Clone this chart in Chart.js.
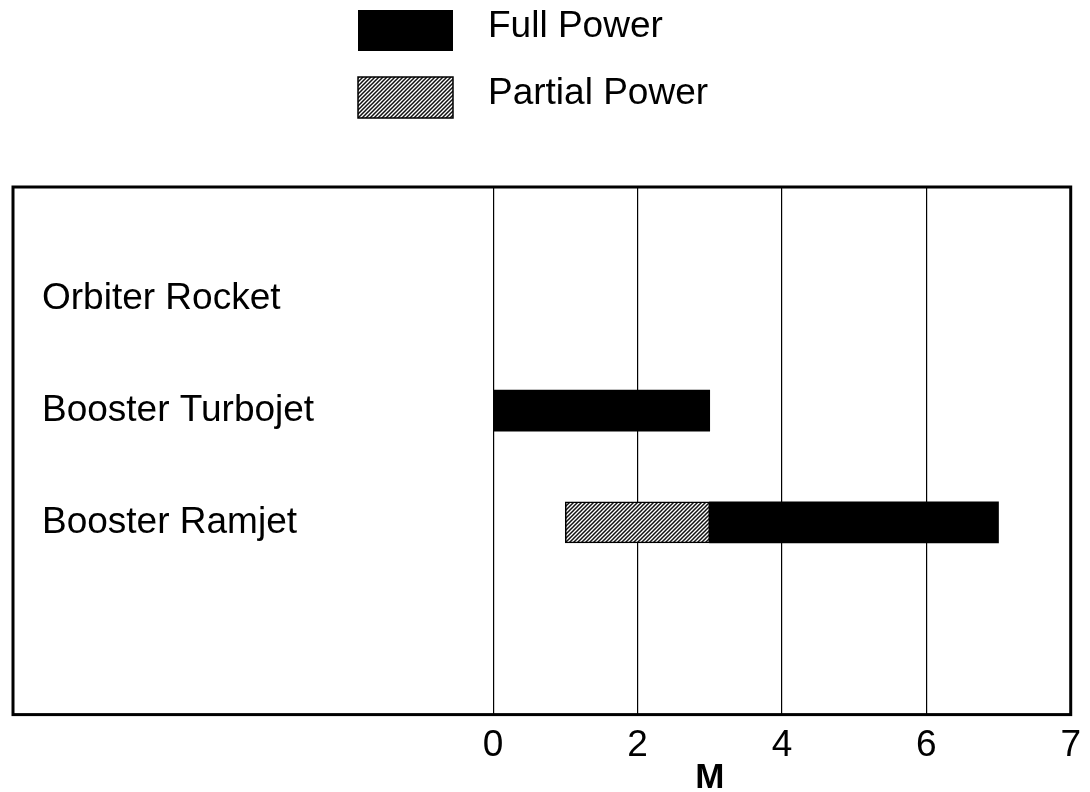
<!DOCTYPE html>
<html>
<head>
<meta charset="utf-8">
<title>Engine operating range</title>
<script src="https://cdn.jsdelivr.net/npm/chart.js@4.4.1/dist/chart.umd.min.js"></script>
<style>
  body { margin: 0; background: #fff; }
  #wrap { width: 1090px; height: 792px; position: relative; }
</style>
</head>
<body>
<div id="wrap"><canvas id="chart"></canvas></div>
<script>
// categories (top to bottom) and Mach ranges
const engines = ['Orbiter Rocket', 'Booster Turbojet', 'Booster Ramjet'];
const fullPowerFrom = [null, 0, 3];
const fullPowerTo = [null, 3, 7];
const partialPowerFrom = [null, null, 1];
const partialPowerTo = [null, null, 3];

// x-axis ticks as printed (last label sits on the right frame)
const tickValues = [0, 2, 4, 6, 8];
const tickLabels = ['0', '2', '4', '6', '7'];
const axisTitle = 'M';

Chart.defaults.font.family = '"Liberation Sans", Arial, sans-serif';
Chart.defaults.color = '#000';

function makeRanges(from, to) {
    const out = [];
    engines.forEach((name, i) => {
        if (from[i] !== null) out.push({ y: i + 1, x: [from[i], to[i]] });
    });
    return out;
}

// fine diagonal hatch like the partial power bar
function hatchPattern() {
    const c = document.createElement('canvas');
    c.width = 4; c.height = 4;
    const g = c.getContext('2d');
    g.fillStyle = '#fff';
    g.fillRect(0, 0, 4, 4);
    g.strokeStyle = '#111';
    g.lineWidth = 1.5;
    g.beginPath();
    g.moveTo(-1, 5); g.lineTo(5, -1);
    g.moveTo(-1, 1); g.lineTo(1, -1);
    g.moveTo(3, 5); g.lineTo(5, 3);
    g.stroke();
    return g.createPattern(c, 'repeat');
}

const ctx = document.getElementById('chart').getContext('2d');
const hatch = hatchPattern();

// frame round the plot, the legend block at the top and the "M" under the axis
const decorations = {
    id: 'decorations',
    afterDraw(chart) {
        const { ctx, chartArea: a, scales } = chart;
        ctx.save();
        ctx.strokeStyle = '#000';
        ctx.lineWidth = 3;
        ctx.strokeRect(a.left, a.top, a.right - a.left, a.bottom - a.top);

        // legend, stacked
        ctx.font = '37px "Liberation Sans", Arial, sans-serif';
        ctx.textBaseline = 'middle';
        ctx.textAlign = 'left';
        let y = 10;
        chart.data.datasets.forEach(ds => {
            ctx.fillStyle = ds.backgroundColor;
            ctx.fillRect(358, y, 95, 41);
            if (ds.borderWidth) {
                ctx.lineWidth = 1.5;
                ctx.strokeStyle = '#000';
                ctx.strokeRect(358, y, 95, 41);
            }
            ctx.fillStyle = '#000';
            ctx.fillText(ds.label, 488, y + 17);
            y += 67;
        });

        ctx.font = 'bold 35px "Liberation Sans", Arial, sans-serif';
        ctx.textAlign = 'center';
        ctx.fillText(axisTitle, scales.x.getPixelForValue(3), 778);
        ctx.restore();
    }
};

new Chart(ctx, {
    type: 'bar',
    data: {
        datasets: [
            {
                label: 'Full Power',
                data: makeRanges(fullPowerFrom, fullPowerTo),
                backgroundColor: '#000',
                borderWidth: 0,
                barThickness: 41,
                grouped: false
            },
            {
                label: 'Partial Power',
                data: makeRanges(partialPowerFrom, partialPowerTo),
                backgroundColor: hatch,
                borderColor: '#000',
                borderWidth: 1.5,
                borderSkipped: false,
                barThickness: 41,
                grouped: false
            }
        ]
    },
    options: {
        indexAxis: 'y',
        responsive: true,
        maintainAspectRatio: false,
        animation: false,
        layout: { padding: { top: 187, left: 13, right: 15, bottom: 15 } },
        plugins: {
            legend: { display: false },
            tooltip: { enabled: false }
        },
        scales: {
            x: {
                type: 'linear',
                min: -6.65,
                max: 8,
                afterBuildTicks: s => { s.ticks = tickValues.map(v => ({ value: v })); },
                ticks: {
                    callback: (v, i) => tickLabels[i],
                    font: { size: 37 },
                    padding: 9,
                    maxRotation: 0,
                    autoSkip: false
                },
                grid: {
                    color: c => (c.tick && c.tick.value < 8 ? '#000' : 'rgba(0,0,0,0)'),
                    lineWidth: 1.2,
                    drawTicks: false
                },
                border: { display: false }
            },
            y: {
                type: 'linear',
                reverse: true,
                offset: false,
                min: 0,
                max: 4.72,
                afterBuildTicks: s => { s.ticks = engines.map((n, i) => ({ value: i + 1 })); },
                afterFit: s => { s.width = 0; },
                ticks: {
                    callback: v => engines[v - 1],
                    mirror: true,
                    padding: 29,
                    font: { size: 37 },
                    autoSkip: false
                },
                grid: { display: false, drawTicks: false },
                border: { display: false }
            }
        }
    },
    plugins: [decorations]
});
</script>
</body>
</html>
